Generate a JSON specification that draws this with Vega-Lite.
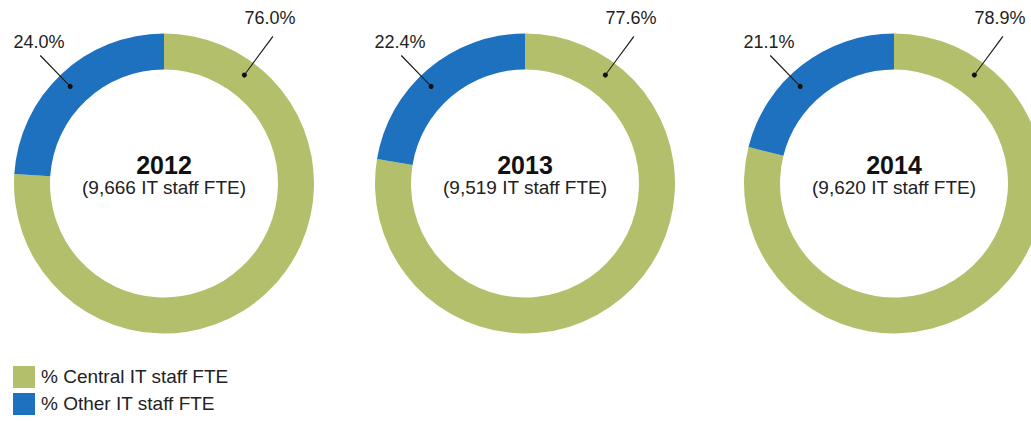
{
  "$schema": "https://vega.github.io/schema/vega-lite/v6.json",
  "padding": 0,
  "background": "white",
  "datasets": {
    "staff": [
      {"year": "2012", "caption": "(9,666 IT staff FTE)", "series": "% Central IT staff FTE", "share": 0.760},
      {"year": "2012", "caption": "(9,666 IT staff FTE)", "series": "% Other IT staff FTE", "share": 0.240},
      {"year": "2013", "caption": "(9,519 IT staff FTE)", "series": "% Central IT staff FTE", "share": 0.776},
      {"year": "2013", "caption": "(9,519 IT staff FTE)", "series": "% Other IT staff FTE", "share": 0.224},
      {"year": "2014", "caption": "(9,620 IT staff FTE)", "series": "% Central IT staff FTE", "share": 0.789},
      {"year": "2014", "caption": "(9,620 IT staff FTE)", "series": "% Other IT staff FTE", "share": 0.211}
    ]
  },
  "data": {"name": "staff"},
  "spacing": 0,
  "hconcat": [
    {
      "width": 328, "height": 367,
      "transform": [{"filter": {"field": "year", "equal": "2012"}}],
      "layer": [
        {"mark": {"type": "arc", "outerRadius": 150, "innerRadius": 114},
         "encoding": {
           "theta": {"field": "share", "type": "quantitative", "stack": true},
           "order": {"field": "series", "sort": "ascending"},
           "color": {"field": "series", "type": "nominal", "scale": {"domain": ["% Central IT staff FTE", "% Other IT staff FTE"], "range": ["#B4BF6B", "#1E71BE"]},
             "legend": {"orient": "none", "legendX": 13, "legendY": 366, "title": null, "direction": "vertical", "symbolType": "square", "symbolSize": 484, "symbolStrokeWidth": 0, "symbolOpacity": 1, "labelFontSize": 19, "labelColor": "#222222", "labelFont": "Liberation Sans", "labelOffset": 6, "rowPadding": 5, "padding": 0, "labelLimit": 400}}
         }},
        {"transform": [{"filter": {"field": "series", "equal": "% Central IT staff FTE"}}],
         "mark": {"type": "arc", "cornerRadius": 0, "color": "#1a1a1a"},
         "encoding": {"theta": {"value": 0.634}, "theta2": {"value": 0.641}, "radius": {"value": 183}, "radius2": {"value": 135}}},
        {"transform": [{"filter": {"field": "series", "equal": "% Central IT staff FTE"}}],
         "mark": {"type": "arc", "cornerRadius": 2.5, "color": "#111111"},
         "encoding": {"theta": {"value": 0.619}, "theta2": {"value": 0.656}, "radius": {"value": 137.5}, "radius2": {"value": 132.5}}},
        {"transform": [{"filter": {"field": "series", "equal": "% Other IT staff FTE"}}],
         "mark": {"type": "arc", "cornerRadius": 0, "color": "#1a1a1a"},
         "encoding": {"theta": {"value": -0.772}, "theta2": {"value": -0.765}, "radius": {"value": 178}, "radius2": {"value": 135}}},
        {"transform": [{"filter": {"field": "series", "equal": "% Other IT staff FTE"}}],
         "mark": {"type": "arc", "cornerRadius": 2.5, "color": "#111111"},
         "encoding": {"theta": {"value": -0.787}, "theta2": {"value": -0.750}, "radius": {"value": 137.5}, "radius2": {"value": 132.5}}},
        {"transform": [{"filter": {"field": "series", "equal": "% Central IT staff FTE"}}],
         "mark": {"type": "text", "font": "Liberation Sans", "fontSize": 18, "color": "#222222", "align": "center", "baseline": "middle"},
         "encoding": {"text": {"field": "share", "type": "quantitative", "format": ".1%"}, "theta": {"value": 0.571}, "radius": {"value": 196}}},
        {"transform": [{"filter": {"field": "series", "equal": "% Other IT staff FTE"}}],
         "mark": {"type": "text", "font": "Liberation Sans", "fontSize": 18, "color": "#222222", "align": "center", "baseline": "middle"},
         "encoding": {"text": {"field": "share", "type": "quantitative", "format": ".1%"}, "theta": {"value": -0.728}, "radius": {"value": 188}}},
        {"transform": [{"filter": {"field": "series", "equal": "% Central IT staff FTE"}}],
         "mark": {"type": "text", "font": "Liberation Sans", "fontSize": 25, "fontWeight": "bold", "color": "#111111", "align": "center", "baseline": "alphabetic", "dy": -10},
         "encoding": {"text": {"field": "year", "type": "nominal"}}},
        {"transform": [{"filter": {"field": "series", "equal": "% Central IT staff FTE"}}],
         "mark": {"type": "text", "font": "Liberation Sans", "fontSize": 19, "color": "#222222", "align": "center", "baseline": "alphabetic", "dy": 10},
         "encoding": {"text": {"field": "caption", "type": "nominal"}}}
      ]
    },
    {
      "width": 394, "height": 367,
      "transform": [{"filter": {"field": "year", "equal": "2013"}}],
      "layer": [
        {"mark": {"type": "arc", "outerRadius": 150, "innerRadius": 114},
         "encoding": {
           "theta": {"field": "share", "type": "quantitative", "stack": true},
           "order": {"field": "series", "sort": "ascending"},
           "color": {"field": "series", "type": "nominal"}
         }},
        {"transform": [{"filter": {"field": "series", "equal": "% Central IT staff FTE"}}],
         "mark": {"type": "arc", "cornerRadius": 0, "color": "#1a1a1a"},
         "encoding": {"theta": {"value": 0.634}, "theta2": {"value": 0.641}, "radius": {"value": 183}, "radius2": {"value": 135}}},
        {"transform": [{"filter": {"field": "series", "equal": "% Central IT staff FTE"}}],
         "mark": {"type": "arc", "cornerRadius": 2.5, "color": "#111111"},
         "encoding": {"theta": {"value": 0.619}, "theta2": {"value": 0.656}, "radius": {"value": 137.5}, "radius2": {"value": 132.5}}},
        {"transform": [{"filter": {"field": "series", "equal": "% Other IT staff FTE"}}],
         "mark": {"type": "arc", "cornerRadius": 0, "color": "#1a1a1a"},
         "encoding": {"theta": {"value": -0.772}, "theta2": {"value": -0.765}, "radius": {"value": 178}, "radius2": {"value": 135}}},
        {"transform": [{"filter": {"field": "series", "equal": "% Other IT staff FTE"}}],
         "mark": {"type": "arc", "cornerRadius": 2.5, "color": "#111111"},
         "encoding": {"theta": {"value": -0.787}, "theta2": {"value": -0.750}, "radius": {"value": 137.5}, "radius2": {"value": 132.5}}},
        {"transform": [{"filter": {"field": "series", "equal": "% Central IT staff FTE"}}],
         "mark": {"type": "text", "font": "Liberation Sans", "fontSize": 18, "color": "#222222", "align": "center", "baseline": "middle"},
         "encoding": {"text": {"field": "share", "type": "quantitative", "format": ".1%"}, "theta": {"value": 0.571}, "radius": {"value": 196}}},
        {"transform": [{"filter": {"field": "series", "equal": "% Other IT staff FTE"}}],
         "mark": {"type": "text", "font": "Liberation Sans", "fontSize": 18, "color": "#222222", "align": "center", "baseline": "middle"},
         "encoding": {"text": {"field": "share", "type": "quantitative", "format": ".1%"}, "theta": {"value": -0.728}, "radius": {"value": 188}}},
        {"transform": [{"filter": {"field": "series", "equal": "% Central IT staff FTE"}}],
         "mark": {"type": "text", "font": "Liberation Sans", "fontSize": 25, "fontWeight": "bold", "color": "#111111", "align": "center", "baseline": "alphabetic", "dy": -10},
         "encoding": {"text": {"field": "year", "type": "nominal"}}},
        {"transform": [{"filter": {"field": "series", "equal": "% Central IT staff FTE"}}],
         "mark": {"type": "text", "font": "Liberation Sans", "fontSize": 19, "color": "#222222", "align": "center", "baseline": "alphabetic", "dy": 10},
         "encoding": {"text": {"field": "caption", "type": "nominal"}}}
      ]
    },
    {
      "width": 344, "height": 367,
      "transform": [{"filter": {"field": "year", "equal": "2014"}}],
      "layer": [
        {"mark": {"type": "arc", "outerRadius": 150, "innerRadius": 114},
         "encoding": {
           "theta": {"field": "share", "type": "quantitative", "stack": true},
           "order": {"field": "series", "sort": "ascending"},
           "color": {"field": "series", "type": "nominal"}
         }},
        {"transform": [{"filter": {"field": "series", "equal": "% Central IT staff FTE"}}],
         "mark": {"type": "arc", "cornerRadius": 0, "color": "#1a1a1a"},
         "encoding": {"theta": {"value": 0.634}, "theta2": {"value": 0.641}, "radius": {"value": 183}, "radius2": {"value": 135}}},
        {"transform": [{"filter": {"field": "series", "equal": "% Central IT staff FTE"}}],
         "mark": {"type": "arc", "cornerRadius": 2.5, "color": "#111111"},
         "encoding": {"theta": {"value": 0.619}, "theta2": {"value": 0.656}, "radius": {"value": 137.5}, "radius2": {"value": 132.5}}},
        {"transform": [{"filter": {"field": "series", "equal": "% Other IT staff FTE"}}],
         "mark": {"type": "arc", "cornerRadius": 0, "color": "#1a1a1a"},
         "encoding": {"theta": {"value": -0.772}, "theta2": {"value": -0.765}, "radius": {"value": 178}, "radius2": {"value": 135}}},
        {"transform": [{"filter": {"field": "series", "equal": "% Other IT staff FTE"}}],
         "mark": {"type": "arc", "cornerRadius": 2.5, "color": "#111111"},
         "encoding": {"theta": {"value": -0.787}, "theta2": {"value": -0.750}, "radius": {"value": 137.5}, "radius2": {"value": 132.5}}},
        {"transform": [{"filter": {"field": "series", "equal": "% Central IT staff FTE"}}],
         "mark": {"type": "text", "font": "Liberation Sans", "fontSize": 18, "color": "#222222", "align": "center", "baseline": "middle"},
         "encoding": {"text": {"field": "share", "type": "quantitative", "format": ".1%"}, "theta": {"value": 0.571}, "radius": {"value": 196}}},
        {"transform": [{"filter": {"field": "series", "equal": "% Other IT staff FTE"}}],
         "mark": {"type": "text", "font": "Liberation Sans", "fontSize": 18, "color": "#222222", "align": "center", "baseline": "middle"},
         "encoding": {"text": {"field": "share", "type": "quantitative", "format": ".1%"}, "theta": {"value": -0.728}, "radius": {"value": 188}}},
        {"transform": [{"filter": {"field": "series", "equal": "% Central IT staff FTE"}}],
         "mark": {"type": "text", "font": "Liberation Sans", "fontSize": 25, "fontWeight": "bold", "color": "#111111", "align": "center", "baseline": "alphabetic", "dy": -10},
         "encoding": {"text": {"field": "year", "type": "nominal"}}},
        {"transform": [{"filter": {"field": "series", "equal": "% Central IT staff FTE"}}],
         "mark": {"type": "text", "font": "Liberation Sans", "fontSize": 19, "color": "#222222", "align": "center", "baseline": "alphabetic", "dy": 10},
         "encoding": {"text": {"field": "caption", "type": "nominal"}}}
      ]
    }
  ],
  "config": {
    "view": {"stroke": null},
    "font": "Liberation Sans"
  }
}
